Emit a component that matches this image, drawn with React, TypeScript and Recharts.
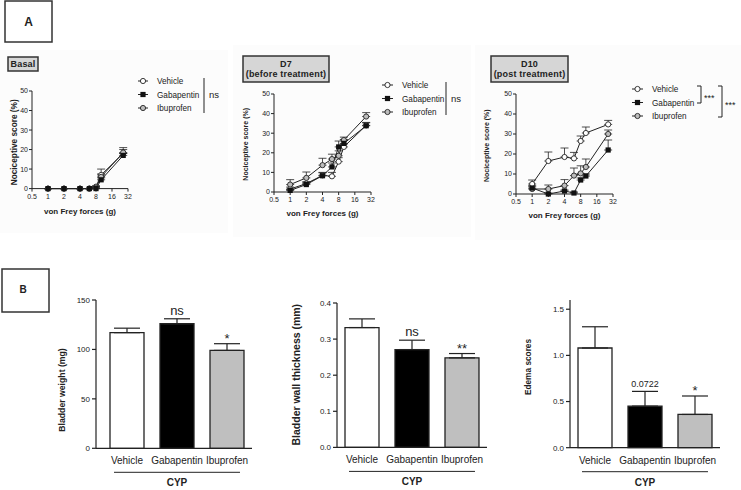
import React from "react";
import { LineChart, Line, BarChart, Bar, Cell, XAxis, YAxis, ErrorBar, ReferenceDot } from "recharts";

const FONT = '"Liberation Sans", Arial, sans-serif';
const INK = "#222";

// ---- A: von Frey, nociceptive score (%) ----
const FORCES = [1, 2, 4, 6, 8, 10, 26];
const FORCE_TICKS = [0.5, 1, 2, 4, 8, 16, 32];
const SCORE_TICKS = [0, 10, 20, 30, 40, 50];

const basalVehicle = [0, 0, 0, 0, 1, 7, 18];
const basalVehicleSem = [0, 0, 0, 0, 0.5, 3, 2];
const basalGabapentin = [0, 0, 0, 0, 0, 4.5, 17];
const basalGabapentinSem = [0, 0, 0, 0, 0, 1, 1];
const basalIbuprofen = [0, 0, 0, 0, 0.5, 6, 18.5];
const basalIbuprofenSem = [0, 0, 0, 0, 0.5, 1.5, 2.5];

const d7Vehicle = [1.5, 4.3, 8.5, 8, 15.5, 23, 34];
const d7VehicleSem = [1, 1, 1.5, 2, 2, 1.5, 1.5];
const d7Gabapentin = [0.8, 3.8, 8.3, 12.8, 23, 24.8, 33.8];
const d7GabapentinSem = [0.5, 1, 1.5, 2, 3, 2, 1.5];
const d7Ibuprofen = [3.8, 7.2, 13.7, 16.8, 18.5, 26.5, 38.5];
const d7IbuprofenSem = [2.5, 3, 3.5, 2.5, 2.5, 1.5, 2];

const d10Vehicle = [5, 16.5, 18.5, 17.8, 26.5, 30.5, 34.8];
const d10VehicleSem = [2, 4.5, 4.5, 3, 2.5, 3, 2];
const d10Gabapentin = [3, 0, 1.5, 0.5, 7, 9, 22];
const d10GabapentinSem = [1, 0.5, 0.5, 0.5, 1, 1, 5];
const d10Ibuprofen = [2.5, 2.5, 4.2, 9.2, 10.3, 13.5, 30];
const d10IbuprofenSem = [1.5, 2, 3, 3.8, 3.8, 4, 2];

// ---- B: CYP bladder measures ----
const GROUPS = ["Vehicle", "Gabapentin", "Ibuprofen"];
const GROUP_FILLS = ["#ffffff", "#000000", "#bfbfbf"];

const bladderWeight = [117, 126, 99];
const bladderWeightSem = [4.5, 5, 6.8];
const bladderWeightSig = ["", "ns", "*"];
const WEIGHT_TICKS = [0, 50, 100, 150];

const wallThickness = [0.332, 0.271, 0.248];
const wallThicknessSem = [0.024, 0.026, 0.012];
const wallThicknessSig = ["", "ns", "**"];
const THICKNESS_TICKS = [0, 0.1, 0.2, 0.3, 0.4];

const edemaScore = [1.08, 0.45, 0.36];
const edemaScoreSem = [0.23, 0.16, 0.2];
const edemaScoreSig = ["", "0.0722", "*"];
const EDEMA_TICKS = [0, 0.5, 1, 1.5];

function forceData(veh, vehSem, gab, gabSem, ibu, ibuSem) {
  return FORCES.map((g, i) => ({
    g,
    veh: veh[i], vehErr: [0, vehSem[i]],
    gab: gab[i], gabErr: [0, gabSem[i]],
    ibu: ibu[i], ibuErr: [0, ibuSem[i]],
  }));
}

// plot rectangles in page pixels; title = centre of the rotated y title
const FORCE_PANELS = [
  { key: "basal", data: forceData(basalVehicle, basalVehicleSem, basalGabapentin, basalGabapentinSem, basalIbuprofen, basalIbuprofenSem),
    x: 32, y: 90.7, w: 96, h: 97.6, title: [14, 142], titleSize: 8.3, xLabelOff: 3 },
  { key: "d7", data: forceData(d7Vehicle, d7VehicleSem, d7Gabapentin, d7GabapentinSem, d7Ibuprofen, d7IbuprofenSem),
    x: 274, y: 93.7, w: 97, h: 98, title: [246, 144], titleSize: 7, xLabelOff: 4 },
  { key: "d10", data: forceData(d10Vehicle, d10VehicleSem, d10Gabapentin, d10GabapentinSem, d10Ibuprofen, d10IbuprofenSem),
    x: 516, y: 94.3, w: 97, h: 100, title: [487, 146], titleSize: 7, xLabelOff: 4 },
];

const BAR_PANELS = [
  { key: "weight", mean: bladderWeight, sem: bladderWeightSem, sig: bladderWeightSig, ticks: WEIGHT_TICKS, domain: [0, 150],
    fmt: (v) => String(v), label: "Bladder weight (mg)", titleSize: 8.7, title: [62, 390],
    x: 96, y: 300, w: 156, h: 148.3, padLeft: 6 },
  { key: "wall", mean: wallThickness, sem: wallThicknessSem, sig: wallThicknessSig, ticks: THICKNESS_TICKS, domain: [0, 0.4],
    fmt: (v) => v.toFixed(1), label: "Bladder wall thickness (mm)", titleSize: 10.5, title: [297, 375],
    x: 337.3, y: 303.3, w: 150, h: 144.4, padLeft: 0 },
  { key: "edema", mean: edemaScore, sem: edemaScoreSem, sig: edemaScoreSig, ticks: EDEMA_TICKS, domain: [0, 1.6],
    fmt: (v) => v.toFixed(1), label: "Edema scores", titleSize: 8.3, title: [528.3, 367],
    x: 570, y: 300, w: 150, h: 147.7, padLeft: 0 },
];

const openDot = (fill) => (props) => (
  <circle key={props.index} cx={props.cx} cy={props.cy} r={2.6} fill={fill} stroke={INK} strokeWidth={0.9} />
);
const squareDot = (props) => (
  <rect key={props.index} x={props.cx - 2.6} y={props.cy - 2.6} width={5.2} height={5.2} fill="#111" />
);

// rotated axis title at a fixed spot (chart-local coordinates)
const yTitle = (text, cx, cy, size) => () => (
  <text x={cx} y={cy} transform={`rotate(-90 ${cx} ${cy})`} textAnchor="middle" dominantBaseline="central"
    fontSize={size} fontWeight={700} fill={INK}>{text}</text>
);

function ForcePanel({ p }) {
  const Y_W = 36, X_H = 28, TOP = 6, RIGHT = 8;
  const left = p.x - Y_W, top = p.y - TOP;
  return (
    <div style={{ position: "absolute", left, top }}>
      <LineChart width={p.w + Y_W + RIGHT} height={p.h + TOP + X_H} data={p.data}
        margin={{ top: TOP, right: RIGHT, left: 0, bottom: 0 }}>
        <XAxis dataKey="g" type="number" scale="log" domain={[0.5, 32]} ticks={FORCE_TICKS} interval={0}
          allowDataOverflow height={X_H} stroke={INK} tickSize={3} tickMargin={2}
          tick={{ fontSize: 7, fill: INK }}
          label={{ value: "von Frey forces (g)", position: "insideBottom", offset: p.xLabelOff,
            fontSize: 8, fontWeight: 700, fill: INK }} />
        <YAxis type="number" domain={[0, 50]} ticks={SCORE_TICKS} interval={0} width={Y_W} stroke={INK}
          tickSize={3} tickMargin={1} tick={{ fontSize: 7, fill: INK }}
          label={{ content: yTitle("Nociceptive score (%)", p.title[0] - left, p.title[1] - top, p.titleSize) }} />
        <Line dataKey="veh" stroke={INK} strokeWidth={1} dot={openDot("#fff")} activeDot={false} isAnimationActive={false}>
          <ErrorBar dataKey="vehErr" width={4} stroke={INK} strokeWidth={0.8} direction="y" />
        </Line>
        <Line dataKey="ibu" stroke={INK} strokeWidth={1} dot={openDot("#bdbdbd")} activeDot={false} isAnimationActive={false}>
          <ErrorBar dataKey="ibuErr" width={4} stroke={INK} strokeWidth={0.8} direction="y" />
        </Line>
        <Line dataKey="gab" stroke={INK} strokeWidth={1} dot={squareDot} activeDot={false} isAnimationActive={false}>
          <ErrorBar dataKey="gabErr" width={4} stroke={INK} strokeWidth={0.8} direction="y" />
        </Line>
      </LineChart>
    </div>
  );
}

const cypLabel = (padLeft) => (props) => {
  const vb = props.viewBox;
  const x1 = vb.x + padLeft + 12;
  const x2 = vb.x + vb.width - 12;
  return (
    <g>
      <line x1={x1} x2={x2} y1={vb.y + 24} y2={vb.y + 24} stroke={INK} strokeWidth={1} />
      <text x={(x1 + x2) / 2} y={vb.y + 38} textAnchor="middle" fontSize={10} fontWeight={700} fill={INK}>CYP</text>
    </g>
  );
};

function CypPanel({ p }) {
  const Y_W = 50, X_H = 42, TOP = 6, RIGHT = 4;
  const left = p.x - Y_W, top = p.y - TOP;
  const data = GROUPS.map((name, i) => ({ name, mean: p.mean[i], err: [0, p.sem[i]] }));
  return (
    <div style={{ position: "absolute", left, top }}>
      <BarChart width={p.w + Y_W + RIGHT} height={p.h + TOP + X_H} data={data}
        margin={{ top: TOP, right: RIGHT, left: 0, bottom: 0 }}>
        <XAxis dataKey="name" tickLine={false} stroke={INK} strokeWidth={1.2} height={X_H}
          padding={{ left: p.padLeft, right: 0 }} tickMargin={3} interval={0}
          tick={{ fontSize: 10, fill: INK }}
          label={{ content: cypLabel(p.padLeft) }} />
        <YAxis type="number" domain={p.domain} ticks={p.ticks} interval={0} width={Y_W} stroke={INK}
          strokeWidth={1.2} tickSize={4} tickMargin={2} tickFormatter={p.fmt}
          tick={{ fontSize: 8, fill: INK }}
          label={{ content: yTitle(p.label, p.title[0] - left, p.title[1] - top, p.titleSize) }} />
        <Bar dataKey="mean" barSize={34} stroke={INK} strokeWidth={1.3} isAnimationActive={false}>
          {GROUPS.map((g, i) => <Cell key={g} fill={GROUP_FILLS[i]} />)}
          <ErrorBar dataKey="err" width={13} stroke={INK} strokeWidth={1.2} direction="y" />
        </Bar>
        {p.sig.map((s, i) => s ? (
          <ReferenceDot key={i} x={GROUPS[i]} y={p.mean[i] + p.sem[i]} r={0} stroke="none" fill="none"
            label={{ value: s, position: "top", offset: s.startsWith("*") ? 1 : 4,
              fontSize: s.length > 3 ? 9 : 13, fill: INK }} />
        ) : null)}
      </BarChart>
    </div>
  );
}

function HeaderBox({ x, y, w, h, lines }) {
  return (
    <g>
      <rect x={x} y={y} width={w} height={h} fill="#d6d6d6" stroke="#333" strokeWidth={1.5} />
      {lines.map((t, i) => (
        <text key={t} x={x + w / 2} y={y + h / 2 + 3.2 + (i - (lines.length - 1) / 2) * 10.5} textAnchor="middle"
          fontSize={9} fontWeight={700} letterSpacing={0.2} fill={INK}>{t}</text>
      ))}
    </g>
  );
}

function SeriesKey({ x, y, gap, symW }) {
  const cx = x + symW / 2;
  return (
    <g>
      {GROUPS.map((name, i) => {
        const cy = y + i * gap;
        return (
          <g key={name}>
            <line x1={x} x2={x + symW} y1={cy} y2={cy} stroke={INK} strokeWidth={1} />
            {i === 1 ? (
              <rect x={cx - 2.6} y={cy - 2.6} width={5.2} height={5.2} fill="#111" />
            ) : (
              <circle cx={cx} cy={cy} r={2.6} fill={i === 0 ? "#fff" : "#bdbdbd"} stroke={INK} strokeWidth={0.9} />
            )}
            <text x={x + symW + 9} y={cy + 3} fontSize={8.2} fill={INK}>{name}</text>
          </g>
        );
      })}
    </g>
  );
}

function Decorations() {
  return (
    <svg width={741} height={490} style={{ position: "absolute", left: 0, top: 0, pointerEvents: "none" }}>
      <rect x={5} y={1} width={47} height={41} fill="#fff" stroke="#333" strokeWidth={1.5} />
      <text x={28.5} y={26} textAnchor="middle" fontSize={12} fontWeight={700} fill={INK}>A</text>
      <rect x={2} y={269} width={47} height={43} fill="#fff" stroke="#333" strokeWidth={1.5} />
      <text x={23} y={293} textAnchor="middle" fontSize={10} fontWeight={700} fill={INK}>B</text>

      <HeaderBox x={8} y={57} w={30} h={14} lines={["Basal"]} />
      <HeaderBox x={243} y={56} w={86} h={26} lines={["D7", "(before treatment)"]} />
      <HeaderBox x={491} y={56} w={77} h={26} lines={["D10", "(post treatment)"]} />

      <SeriesKey x={138} y={81} gap={13.5} symW={10} />
      <line x1={204} x2={204} y1={78} y2={113} stroke={INK} strokeWidth={1} />
      <text x={209} y={97.5} fontSize={9.5} fill={INK}>ns</text>

      <SeriesKey x={382} y={85} gap={13.5} symW={11} />
      <line x1={446} x2={446} y1={82} y2={115} stroke={INK} strokeWidth={1} />
      <text x={451} y={101.5} fontSize={9.5} fill={INK}>ns</text>

      <SeriesKey x={632} y={89} gap={13.5} symW={11} />
      <polyline points="697,86 701,86 701,103 697,103" fill="none" stroke={INK} strokeWidth={1} />
      <text x={704} y={100.5} fontSize={9} fill={INK}>***</text>
      <polyline points="718,86 722,86 722,117 718,117" fill="none" stroke={INK} strokeWidth={1} />
      <text x={725} y={107.5} fontSize={9} fill={INK}>***</text>
    </svg>
  );
}

export default function App() {
  return (
    <div style={{ position: "absolute", left: 0, top: 0, width: 741, height: 490, background: "#fff", fontFamily: FONT, overflow: "hidden" }}>
      <svg width={741} height={490} style={{ position: "absolute", left: 0, top: 0 }}>
        <rect x={0} y={50} width={228} height={183} fill="#fcfcfc" />
        <rect x={233} y={45} width={238} height={192} fill="#fcfcfc" />
        <rect x={475} y={45} width={266} height={195} fill="#fcfcfc" />
      </svg>
      {FORCE_PANELS.map((p) => <ForcePanel key={p.key} p={p} />)}
      {BAR_PANELS.map((p) => <CypPanel key={p.key} p={p} />)}
      <Decorations />
    </div>
  );
}
